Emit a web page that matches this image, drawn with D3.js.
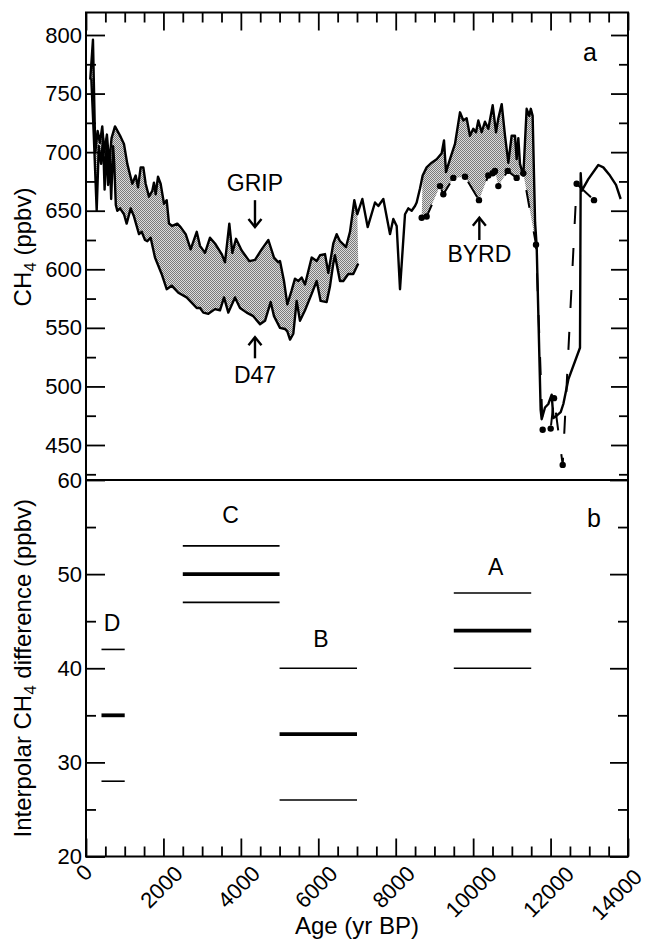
<!DOCTYPE html>
<html><head><meta charset="utf-8">
<script src="https://cdn.jsdelivr.net/npm/d3@7"></script>
<style>
body{margin:0;background:#fff}
svg{display:block}
text{font-family:"Liberation Sans",Arial,Helvetica,sans-serif;fill:#000}
</style>
</head><body>
<svg id="c" width="649" height="945"></svg>
<script>
// ---------------- DATA ----------------
// Panel a: GRIP (Greenland) CH4 record
const gripAge = [110,180,240,300,360,420,470,540,600,660,749,896,981,1067,1196,1283,1343,1412,1481,1541,1627,1713,1756,1800,1860,1928,2015,2084,2144,2229,2358,2444,2575,2704,2860,2945,3074,3203,3332,3505,3590,3702,3780,3875,4021,4219,4365,4537,4710,4856,4968,5011,5114,5200,5312,5398,5484,5570,5657,5829,5958,6044,6173,6259,6388,6475,6561,6716,6819,6931,7009,7138,7276,7465,7551,7680,7852,7938,8025,8111,8240,8326,8412,8498,8541,8627,8696,8799,8929,9058,9187,9247,9299,9402,9531,9660,9746,9832,9918,10004,10074,10134,10220,10306,10392,10505,10591,10651,10738,10823,10909,10995,11081,11124,11167,11210,11296,11382,11450,11490,11537,11600,11641,11744,11770,11856,11942,12029,12072,12158,12261,12330,12459,12760,12778,12803,12975,13233,13362,13534,13690,13811];
const gripCH4 = [762,796,700,718,708,722,700,715,690,712,722,713,707,690,673,680,670,687,687,673,662,667,674,664,679,673,656,659,639,637,639,636,630,617,632,620,614,627,622,613,606,639,614,626,616,607,608,617,625,610,606,607,590,570,582,592,590,593,587,610,607,612,613,597,622,630,624,619,632,659,647,660,636,657,654,660,630,643,637,583,647,652,650,654,657,669,680,687,691,694,699,710,683,694,707,734,727,729,714,720,717,727,717,726,720,740,717,729,741,714,691,714,714,694,712,690,680,737,731,737,731,640,620,480,472,482,485,493,473,475,478,485,506,533,682,667,677,689,687,680,672,660];
// Panel a: D47 (Antarctica) CH4 record
const d47Age = [137,200,276,330,390,440,480,530,570,610,650,700,730,770,808,880,981,1050,1154,1240,1369,1438,1524,1584,1670,1782,1954,2084,2213,2385,2600,2859,2945,3031,3160,3332,3461,3565,3676,3849,3978,4150,4322,4494,4624,4770,4856,5011,5140,5200,5270,5355,5441,5527,5657,5829,5958,6060,6216,6300,6388,6430,6560,6646,6775,6904,7033];
const d47CH4 = [763,715,650,705,690,712,668,705,672,700,660,705,690,655,650,652,647,639,652,645,630,632,625,624,627,610,596,583,586,580,576,567,567,563,562,566,565,576,563,576,567,563,560,553,556,572,560,550,549,547,540,545,573,556,565,579,590,573,572,585,605,612,590,590,596,596,605];
// Panel a: BYRD (Antarctica) CH4 record
const byrdAge = [8671,8799,9144,9230,9488,9790,10151,10392,10505,10565,10651,10893,11124,11296,11624,11796,12003,12089,12313,12674,13122];
const byrdCH4 = [644,645,671,664,678,679,659,680,682,684,671,684,678,682,621,463,464,490,433,673,659];
const byrdOverlapEnd = 11650; // GRIP/BYRD shaded overlap ends at the drop

// Panel a annotations
const annText = ["GRIP","D47","BYRD"];
const annAge = [4365,4365,10160];
const annCH4 = [667,503,606];
const arrowFrom = [659,524,625];
const arrowTo = [636,542,644];

// Panel b: interpolar difference
const groups = ["D","C","B","A"];
const groupStart = [400,2500,5000,9500];
const groupEnd = [1000,5000,7000,11500];
const diffMean = [35,50,33,44];
const diffHigh = [42,53,40,48];
const diffLow = [28,47,26,40];
const groupLabelAge = [670,3735,6065,10580];
const groupLabelDiff = [44.0,55.4,42.3,49.9];

// Ticks
const xTicks = [0,2000,4000,6000,8000,10000,12000,14000];
const xMinor = d3.range(0,14001,500);
const yATicks = [450,500,550,600,650,700,750,800];
const yAMinor = d3.range(425,801,25);
const yBTicks = [20,30,40,50,60];
const yBMinor = [25,35,45,55];

// ---------------- CHART ----------------
const svg = d3.select("#c");
const L = 86, R = 628, T = 12.5, M = 480, B = 856.5;
const x = d3.scaleLinear().domain([0,14000]).range([L,R]);
const yA = d3.scaleLinear().domain([450,800]).range([445,35]);
const yB = d3.scaleLinear().domain([20,60]).range([B,M]);

const defs = svg.append("defs");
const pat = defs.append("pattern").attr("id","stip").attr("width",2).attr("height",2).attr("patternUnits","userSpaceOnUse");
pat.append("rect").attr("width",2).attr("height",2).attr("fill","#dcdcdc");
pat.append("rect").attr("width",1).attr("height",1).attr("fill","#7a7a7a");
pat.append("rect").attr("x",1).attr("y",1).attr("width",1).attr("height",1).attr("fill","#7a7a7a");
defs.append("clipPath").attr("id","clipA").append("rect").attr("x",L).attr("y",T).attr("width",R-L).attr("height",M-T);

const grip = gripAge.map((a,i)=>[a,gripCH4[i]]);
const d47 = d47Age.map((a,i)=>[a,d47CH4[i]]);
const byrd = byrdAge.map((a,i)=>[a,byrdCH4[i]]);

const lineA = d3.line().x(d=>x(d[0])).y(d=>yA(d[1]));
const gA = svg.append("g").attr("clip-path","url(#clipA)");

// shaded areas
const d47Ext = d3.extent(d47Age);
const poly1 = grip.filter(p=>p[0]<=d47Ext[1]).concat(d47.slice().reverse());
const byrdFill = byrd.filter(p=>p[0]<=byrdOverlapEnd);
const poly2 = grip.filter(p=>p[0]>=byrdFill[0][0] && p[0]<=byrdOverlapEnd).concat(byrdFill.slice().reverse());
[poly1,poly2].forEach(p=>{
  gA.append("path").attr("d",lineA(p)+"Z").attr("fill","url(#stip)").attr("stroke","none");
});

// lines
gA.append("path").attr("d",lineA(d47)).attr("fill","none").attr("stroke","#000").attr("stroke-width",2.4).attr("stroke-linejoin","round");
gA.append("path").attr("d",lineA(byrd)).attr("fill","none").attr("stroke","#000").attr("stroke-width",2).attr("stroke-dasharray","18,24");
gA.append("path").attr("d",lineA(grip)).attr("fill","none").attr("stroke","#000").attr("stroke-width",2.4).attr("stroke-linejoin","round");
gA.selectAll("circle.byrd").data(byrd).enter().append("circle").attr("class","byrd")
  .attr("cx",d=>x(d[0])).attr("cy",d=>yA(d[1])).attr("r",3.2).attr("fill","#000");

// annotations
annText.forEach((t,i)=>{
  const ax = x(annAge[i]);
  svg.append("text").attr("x",ax).attr("y",yA(annCH4[i])).attr("text-anchor","middle").attr("font-size",23).text(t);
  const y1 = yA(arrowFrom[i]), y2 = yA(arrowTo[i]);
  const dir = y2>y1 ? -1 : 1;
  svg.append("line").attr("x1",ax).attr("x2",ax).attr("y1",y1).attr("y2",y2).attr("stroke","#000").attr("stroke-width",2.4);
  svg.append("path").attr("d",`M${ax-6.5},${y2+dir*8}L${ax},${y2}L${ax+6.5},${y2+dir*8}`).attr("fill","none").attr("stroke","#000").attr("stroke-width",2.4);
});

// panel b segments
groups.forEach((g,i)=>{
  const x1 = x(groupStart[i]), x2 = x(groupEnd[i]);
  [[diffHigh[i],1.6],[diffMean[i],3.8],[diffLow[i],1.6]].forEach(([v,w])=>{
    svg.append("line").attr("x1",x1).attr("x2",x2).attr("y1",yB(v)).attr("y2",yB(v)).attr("stroke","#000").attr("stroke-width",w);
  });
  svg.append("text").attr("x",x(groupLabelAge[i])).attr("y",yB(groupLabelDiff[i])).attr("text-anchor","middle").attr("font-size",23).text(g);
});

// axes (inward ticks)
function axis(gen, scale, vals, size, labels, tx, ty){
  const a = gen(scale).tickValues(vals).tickSize(-size).tickSizeOuter(0).tickPadding(4);
  if(!labels) a.tickFormat("");
  const g = svg.append("g").attr("transform",`translate(${tx},${ty})`).call(a);
  g.select(".domain").remove();
  g.selectAll("line").attr("stroke","#000").attr("stroke-width",1.8);
  g.selectAll("text").attr("font-size",22).attr("font-family",'"Liberation Sans",Arial,sans-serif').attr("fill","#000");
  return g;
}
// panel a
axis(d3.axisLeft, yA, yATicks, 19, true, L, 0);
axis(d3.axisLeft, yA, yAMinor.filter(v=>v%50), 10, false, L, 0);
axis(d3.axisRight, yA, yATicks, 17, false, R, 0);
axis(d3.axisRight, yA, yAMinor.filter(v=>v%50), 9, false, R, 0);
axis(d3.axisTop, x, xTicks, 18, false, 0, T);
axis(d3.axisTop, x, xMinor.filter(v=>v%2000), 10, false, 0, T);
// panel b
axis(d3.axisLeft, yB, yBTicks, 19, true, L, 0);
axis(d3.axisLeft, yB, yBMinor, 10, false, L, 0);
axis(d3.axisRight, yB, yBTicks, 18, false, R, 0);
axis(d3.axisRight, yB, yBMinor, 10, false, R, 0);
axis(d3.axisBottom, x, xTicks, 18, false, 0, B);
axis(d3.axisBottom, x, xMinor.filter(v=>v%2000), 10, false, 0, B);

// rotated x tick labels (kept inside the page)
xTicks.forEach(v=>{
  const t = svg.append("text").attr("font-size",22).attr("text-anchor","middle").attr("dominant-baseline","central").text(v);
  const w = t.node().getComputedTextLength();
  let cx = x(v)-2, cy = 867.7+0.394*w;
  t.attr("transform",`translate(${cx},${cy}) rotate(-45)`);
  const r = t.node().getBoundingClientRect();
  if (r.right > 647) {
    const s = r.right - 647;
    cx -= s; cy += s*0.3;
    t.attr("transform",`translate(${cx},${cy}) rotate(-45)`);
  }
});

// frame
svg.append("rect").attr("x",L).attr("y",T).attr("width",R-L).attr("height",B-T).attr("fill","none").attr("stroke","#000").attr("stroke-width",2);
svg.append("line").attr("x1",L).attr("x2",R).attr("y1",M).attr("y2",M).attr("stroke","#000").attr("stroke-width",2);

// panel letters
svg.append("text").attr("x",590).attr("y",61).attr("text-anchor","middle").attr("font-size",25).text("a");
svg.append("text").attr("x",594).attr("y",527).attr("text-anchor","middle").attr("font-size",25).text("b");

// axis titles
const t1 = svg.append("text").attr("transform",`translate(31,${(yA(800)+yA(450))/2 + 7}) rotate(-90)`).attr("text-anchor","middle").attr("font-size",24);
t1.append("tspan").text("CH");
t1.append("tspan").attr("font-size",17).attr("dy",5).text("4");
t1.append("tspan").attr("dy",-5).text(" (ppbv)");
const t2 = svg.append("text").attr("transform",`translate(31,${(yB(60)+yB(20))/2}) rotate(-90)`).attr("text-anchor","middle").attr("font-size",24);
t2.append("tspan").text("Interpolar CH");
t2.append("tspan").attr("font-size",17).attr("dy",5).text("4");
t2.append("tspan").attr("dy",-5).text(" difference (ppbv)");
svg.append("text").attr("x",(L+R)/2).attr("y",934).attr("text-anchor","middle").attr("font-size",24).text("Age (yr BP)");
</script>
</body></html>
